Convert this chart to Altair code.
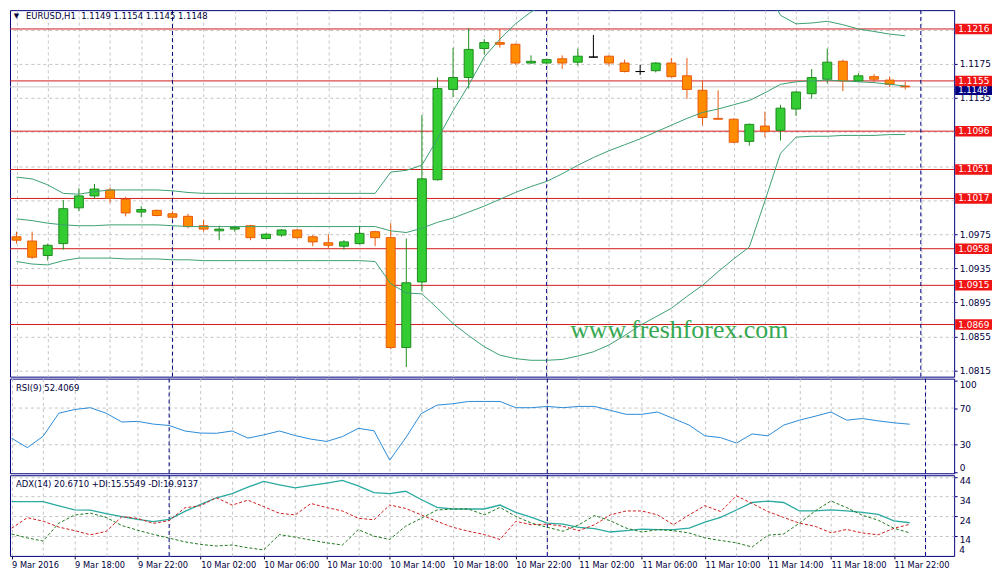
import altair as alt
import pandas as pd

# ---------------- data ----------------
opens = [1.0972, 1.0967, 1.0950, 1.0964, 1.1006, 1.1020, 1.1027, 1.1016, 1.1001, 1.1003,
         1.0999, 1.0996, 1.0985, 1.0979, 1.0981, 1.0985, 1.0970, 1.0974, 1.0980, 1.0972,
         1.0965, 1.0961, 1.0964, 1.0978, 1.0971, 1.0842, 1.0919, 1.1039, 1.1145, 1.1159,
         1.1193, 1.1200, 1.1198, 1.1176, 1.1176, 1.1181, 1.1177, 1.1183, 1.1184, 1.1176,
         1.1166, 1.1167, 1.1176, 1.1161, 1.1144, 1.1111, 1.1110, 1.1084, 1.1102, 1.1097,
         1.1122, 1.1140, 1.1157, 1.1178, 1.1155, 1.1160, 1.1156, 1.1149]
highs = [1.0978, 1.0978, 1.0964, 1.1015, 1.1029, 1.1034, 1.1030, 1.1019, 1.1008, 1.1004,
         1.1002, 1.0999, 1.0992, 1.0985, 1.0985, 1.0986, 1.0976, 1.0981, 1.0981, 1.0974,
         1.0975, 1.0968, 1.0985, 1.0979, 1.0988, 1.0970, 1.1115, 1.1159, 1.1194, 1.1217,
         1.1204, 1.1216, 1.1199, 1.1185, 1.1181, 1.1185, 1.1193, 1.1209, 1.1185, 1.1180,
         1.1174, 1.1177, 1.1182, 1.1182, 1.1155, 1.1144, 1.1111, 1.1105, 1.1119, 1.1127,
         1.1143, 1.1169, 1.1193, 1.1180, 1.1164, 1.1163, 1.1160, 1.1154]
lows = [1.0964, 1.0946, 1.0944, 1.0957, 1.1002, 1.1017, 1.1012, 1.0996, 1.0995, 1.0996,
        1.0993, 1.0982, 1.0978, 1.0968, 1.0978, 1.0968, 1.0969, 1.0972, 1.0970, 1.0961,
        1.0958, 1.0957, 1.0963, 1.0961, 1.0840, 1.0819, 1.0908, 1.1038, 1.1136, 1.1146,
        1.1186, 1.1194, 1.1174, 1.1175, 1.1175, 1.1169, 1.1173, 1.1182, 1.1173, 1.1165,
        1.1162, 1.1165, 1.1159, 1.1134, 1.1103, 1.1110, 1.1082, 1.1079, 1.1089, 1.1085,
        1.1114, 1.1134, 1.1152, 1.1143, 1.1154, 1.1153, 1.1148, 1.1145]
closes = [1.0968, 1.0948, 1.0962, 1.1005, 1.1020, 1.1028, 1.1017, 1.1000, 1.1004, 1.0997,
          1.0995, 1.0984, 1.0981, 1.0981, 1.0983, 1.0971, 1.0975, 1.0980, 1.0971, 1.0966,
          1.0962, 1.0966, 1.0976, 1.0971, 1.0842, 1.0918, 1.1040, 1.1146, 1.1159, 1.1192,
          1.1200, 1.1198, 1.1176, 1.1178, 1.1180, 1.1176, 1.1184, 1.1183, 1.1176, 1.1166,
          1.1166, 1.1176, 1.1160, 1.1145, 1.1112, 1.1110, 1.1083, 1.1104, 1.1096, 1.1123,
          1.1142, 1.1159, 1.1177, 1.1155, 1.1161, 1.1157, 1.1151, 1.1148]

bb_upper = [1.1042, 1.1040, 1.1033, 1.1023, 1.1022, 1.1025, 1.1027, 1.1027, 1.1027, 1.1027,
            1.1026, 1.1024, 1.1023, 1.1023, 1.1023, 1.1023, 1.1023, 1.1023, 1.1023, 1.1023,
            1.1023, 1.1023, 1.1023, 1.1023, 1.1048, 1.1050, 1.1056, 1.1087, 1.1120, 1.1150,
            1.1183, 1.1204, 1.1222, 1.1236, 1.1247, 1.1264, 1.1280, 1.1293, 1.1301, 1.1304,
            1.1306, 1.1312, 1.1318, 1.1320, 1.1321, 1.1313, 1.1308, 1.1304, 1.1268, 1.1232,
            1.1222, 1.1223, 1.1225, 1.1221, 1.1216, 1.1213, 1.1210, 1.1208]
bb_middle = [1.0993, 1.0991, 1.0988, 1.0986, 1.0985, 1.0985, 1.0986, 1.0986, 1.0986, 1.0986,
             1.0985, 1.0984, 1.0984, 1.0984, 1.0984, 1.0984, 1.0984, 1.0984, 1.0984, 1.0984,
             1.0984, 1.0984, 1.0984, 1.0984, 1.0979, 1.0977, 1.0982, 1.0989, 1.0994, 1.1001,
             1.1008, 1.1016, 1.1024, 1.1031, 1.1037, 1.1046, 1.1056, 1.1065, 1.1073, 1.1080,
             1.1087, 1.1095, 1.1103, 1.1111, 1.1118, 1.1122, 1.1127, 1.1132, 1.1141, 1.1151,
             1.1154, 1.1155, 1.1156, 1.1155, 1.1154, 1.1153, 1.1151, 1.1149]
bb_lower = [1.0943, 1.0940, 1.0939, 1.0944, 1.0947, 1.0947, 1.0947, 1.0946, 1.0946, 1.0946,
            1.0945, 1.0945, 1.0944, 1.0944, 1.0944, 1.0944, 1.0944, 1.0944, 1.0944, 1.0944,
            1.0944, 1.0944, 1.0944, 1.0943, 1.0917, 1.0906, 1.0905, 1.0888, 1.0870, 1.0856,
            1.0843, 1.0833, 1.0829, 1.0827, 1.0827, 1.0828, 1.0832, 1.0837, 1.0845, 1.0856,
            1.0868, 1.0878, 1.0888, 1.0902, 1.0915, 1.0931, 1.0946, 1.0960, 1.1014, 1.1070,
            1.1089, 1.1090, 1.1090, 1.1091, 1.1091, 1.1091, 1.1092, 1.1092]

rsi_values = [37.2, 26.8, 39.2, 64.4, 68.4, 70.4, 64.4, 54.8, 55.5, 52.5,
              51.0, 45.0, 42.7, 42.5, 45.0, 37.2, 40.7, 45.0, 40.0, 36.1,
              33.6, 38.9, 47.9, 45.3, 13.2, 37.2, 64.0, 73.2, 74.7, 77.2,
              77.2, 77.2, 70.4, 70.4, 71.8, 70.4, 71.8, 71.8, 67.5, 63.2,
              63.2, 65.7, 58.6, 51.4, 39.7, 37.8, 31.8, 41.8, 39.7, 51.4,
              56.8, 61.1, 65.7, 56.8, 58.6, 56.0, 53.9, 52.4]
adx_values = [31.4, 31.4, 31.4, 29.3, 27.3, 27.1, 25.4, 23.8, 22.4, 21.3,
              22.4, 26.5, 30.0, 33.4, 35.5, 38.8, 41.7, 40.0, 38.4, 39.7,
              40.9, 42.2, 39.4, 36.0, 35.5, 36.7, 32.5, 28.5, 27.7, 27.7,
              27.7, 29.7, 26.0, 23.4, 20.5, 20.0, 18.4, 17.7, 16.0, 16.7,
              17.5, 17.2, 17.2, 18.0, 21.0, 23.4, 27.2, 31.0, 31.7, 31.0,
              26.7, 26.7, 27.2, 26.7, 26.0, 25.0, 21.7, 20.7]
plus_di = [15.0, 13.0, 11.4, 20.5, 24.6, 25.6, 23.4, 19.3, 16.9, 14.8,
           12.9, 11.0, 9.7, 8.9, 9.4, 8.0, 6.9, 14.7, 13.4, 11.9,
           10.5, 9.4, 17.2, 13.9, 12.2, 18.9, 23.0, 27.2, 27.7, 27.7,
           24.7, 28.5, 23.9, 20.5, 18.4, 16.4, 19.7, 24.4, 21.7, 18.0,
           16.0, 17.2, 16.7, 15.5, 13.0, 11.7, 10.5, 8.4, 14.4, 15.0,
           20.5, 26.7, 31.8, 28.4, 24.5, 22.0, 17.9, 15.6]
minus_di = [17.9, 23.3, 21.5, 18.5, 16.7, 14.6, 16.3, 23.8, 22.9, 20.4,
            21.8, 28.3, 29.4, 33.4, 29.7, 32.2, 28.9, 25.5, 24.7, 30.5,
            28.4, 26.7, 23.0, 22.2, 29.7, 28.0, 24.7, 21.4, 18.4, 16.4,
            14.7, 12.2, 21.4, 19.7, 20.0, 18.9, 16.7, 19.7, 24.7, 26.7,
            26.7, 24.7, 19.7, 24.7, 29.4, 26.4, 34.4, 30.5, 26.4, 23.4,
            20.5, 18.9, 15.6, 17.3, 15.5, 14.6, 17.9, 19.9]

time_labels = ["9 Mar 2016", "9 Mar 18:00", "9 Mar 22:00", "10 Mar 02:00", "10 Mar 06:00",
               "10 Mar 10:00", "10 Mar 14:00", "10 Mar 18:00", "10 Mar 22:00", "11 Mar 02:00",
               "11 Mar 06:00", "11 Mar 10:00", "11 Mar 14:00", "11 Mar 18:00", "11 Mar 22:00"]
day_separators = [10, 34, 58]
level_prices = [1.1216, 1.1155, 1.1096, 1.1051, 1.1017, 1.0958, 1.0915, 1.0869]
price_grid = [1.0815, 1.0855, 1.0895, 1.0935, 1.0975, 1.1015, 1.1055, 1.1095, 1.1135, 1.1175, 1.1215]
last_price = [1.1148]
rsi_levels = [30, 70]
rsi_ticks = [0, 30, 70, 100]
adx_ticks = [14, 24, 34, 44]
adx_bottom_label = "4"

title_main = "EURUSD,H1\u00a0 1.1149 1.1154 1.1145 1.1148"
title_rsi = "RSI(9) 52.4069"
title_adx = "ADX(14) 20.6710 +DI:15.5549 -DI:19.9137"
watermark = "www.freshforex.com"

bars = list(range(len(opens)))

# ---------------- style ----------------
W, H1, H2, H3 = 948, 368, 95, 81
FONT = "DejaVu Sans"
NAVY = "#000080"
TXT = "#00003c"
GRID = "#c4c4c4"
RED = "#d41a1a"
BOX_RED = "#f01414"
BAND = "#3c9f72"

xscale = alt.Scale(domain=[-0.1, 59.82], nice=False, zero=False)
grid_vals = list(range(0, 60, 2))

xa_plain = alt.Axis(values=grid_vals, grid=True, gridColor=GRID, gridDash=[3, 3],
                    labels=False, ticks=False, domain=False, title=None)

tick_expr = ("datum.value % 4 == 0 ? [" + ",".join("'" + t + "'" for t in time_labels)
             + "][datum.value / 4] : ''")
xa_bottom = alt.Axis(values=grid_vals, grid=True, gridColor=GRID, gridDash=[3, 3],
                     labelExpr=tick_expr, labelAlign="left", labelFont=FONT, labelFontSize=8.3,
                     labelColor=TXT, labelPadding=2, labelOverlap=False, labelFlush=False,
                     labelBound=False, ticks=True, tickSize=3,
                     tickColor={"condition": {"test": "datum.value % 4 == 0", "value": TXT},
                                "value": "transparent"},
                     domain=False, title=None)


def text_layer(txt, x, y, size=8.5, align="left", color=TXT, font=FONT):
    return alt.Chart(pd.DataFrame({"t": [txt]})).mark_text(
        align=align, baseline="middle", font=font, fontSize=size, color=color
    ).encode(text="t:N", x=alt.value(x), y=alt.value(y))


# ---------------- main price panel ----------------
# axis labels that sit under a level box are left blank (as in the reference)
hidden = [f"{g:.4f}" for g in price_grid if any(abs(g - l) < 0.0008 for l in level_prices)]
price_label_expr = ("indexof([" + ",".join("'" + h + "'" for h in hidden)
                    + "], format(datum.value, '.4f')) >= 0 ? '' : format(datum.value, '.4f')")

pscale = alt.Scale(domain=[1.08078, 1.12381], nice=False, zero=False)
paxis = alt.Axis(orient="right", values=price_grid, labelExpr=price_label_expr, grid=True,
                 gridColor=GRID, gridDash=[3, 3], domain=False, ticks=True, tickSize=3,
                 tickColor=NAVY, labelColor=TXT, labelFont=FONT, labelFontSize=9, labelPadding=2,
                 labelOverlap=False, title=None)


def X(f, axis):
    return alt.X(f"{f}:Q", scale=xscale, axis=axis)


def PY(f):
    return alt.Y(f"{f}:Q", scale=pscale, axis=paxis)


candles = pd.DataFrame({"i": bars, "open": opens, "high": highs, "low": lows, "close": closes})
candles["kind"] = ["doji" if o == c else ("bull" if c > o else "bear") for o, c in zip(opens, closes)]
bands = pd.DataFrame({"i": bars, "up": bb_upper, "mid": bb_middle, "low": bb_lower})
kinds = ["bull", "bear", "doji"]

levels_df = pd.DataFrame({"level": level_prices})
last_df = pd.DataFrame({"level": last_price})
sep_df = pd.DataFrame({"s": day_separators})

lvl_rules = alt.Chart(levels_df).mark_rule(color=RED, strokeWidth=1).encode(y=PY("level"))
last_rule = alt.Chart(last_df).mark_rule(color="#c8c8c8", strokeWidth=1).encode(y=PY("level"))
seps_main = alt.Chart(sep_df).mark_rule(color=NAVY, strokeDash=[4, 3]).encode(x=X("s", xa_plain))

wicks = alt.Chart(candles).mark_rule(clip=True, strokeWidth=1).encode(
    x=X("i", xa_plain), y=PY("low"), y2="high:Q",
    color=alt.Color("kind:N", scale=alt.Scale(domain=kinds, range=["#1e8c1e", "#e8590c", "#000000"]),
                    legend=None))
bodies = alt.Chart(candles).mark_bar(width=9, clip=True, strokeWidth=1).encode(
    x=X("i", xa_plain), y=PY("open"), y2="close:Q",
    fill=alt.Fill("kind:N", scale=alt.Scale(domain=kinds, range=["#33cc33", "#ff8c00", "#000000"]),
                  legend=None),
    stroke=alt.Stroke("kind:N", scale=alt.Scale(domain=kinds, range=["#1e8c1e", "#e8590c", "#000000"]),
                      legend=None))

band_layers = [alt.Chart(bands).mark_line(color=BAND, strokeWidth=1, clip=True).encode(
    x=X("i", xa_plain), y=PY(f)) for f in ["up", "mid", "low"]]

box_half = 0.00062
# the current-price box sits just under the 1.1155 box, as in the reference
navy_box = alt.Chart(last_df).transform_calculate(
    top="datum.level + 0.0003", bot="datum.level - 0.00095"
).mark_rect(color=NAVY).encode(x=alt.value(W + 1), x2=alt.value(W + 38), y=PY("top"), y2="bot:Q")
navy_txt = alt.Chart(last_df).mark_text(align="left", baseline="middle", font=FONT, fontSize=8.5,
                                        color="white", dy=3).encode(
    x=alt.value(W + 4), y=PY("level"), text=alt.Text("level:Q", format=".4f"))
red_box = alt.Chart(levels_df).transform_calculate(
    top=f"datum.level + {box_half}", bot=f"datum.level - {box_half}"
).mark_rect(color=BOX_RED).encode(x=alt.value(W + 1), x2=alt.value(W + 38), y=PY("top"), y2="bot:Q")
red_txt = alt.Chart(levels_df).mark_text(align="left", baseline="middle", font=FONT, fontSize=9,
                                         color="white").encode(
    x=alt.value(W + 4), y=PY("level"), text=alt.Text("level:Q", format=".4f"))

main = alt.layer(
    last_rule, lvl_rules, seps_main,
    text_layer(watermark, 672, 321, size=26, align="center", color="#36a852", font="Liberation Serif"),
    wicks, bodies, *band_layers,
    text_layer("\u25bc", 6.5, 5.5, size=7, align="center"),
    text_layer(title_main, 16, 5.5),
    navy_box, navy_txt, red_box, red_txt,
).properties(width=W, height=H1)

# ---------------- RSI panel ----------------
rscale = alt.Scale(domain=[-1.1, 102.1], nice=False, zero=False)
raxis = alt.Axis(orient="right", values=rsi_ticks, grid=False, domain=False, ticks=True, tickSize=3,
                 tickColor=NAVY, labelColor=TXT, labelFont=FONT, labelFontSize=9, labelPadding=2,
                 labelFlush=4, labelOverlap=False, title=None)
rsi_df = pd.DataFrame({"i": bars, "rsi": rsi_values})
rsi_lv = pd.DataFrame({"v": rsi_levels})

rsi = alt.layer(
    alt.Chart(rsi_lv).mark_rule(color=GRID, strokeDash=[3, 3]).encode(
        y=alt.Y("v:Q", scale=rscale, axis=raxis)),
    alt.Chart(sep_df).mark_rule(color=NAVY, strokeDash=[4, 3]).encode(x=X("s", xa_plain)),
    alt.Chart(rsi_df).mark_line(color="#2a8ad8", strokeWidth=1).encode(
        x=X("i", xa_plain), y=alt.Y("rsi:Q", scale=rscale, axis=raxis)),
    text_layer(title_rsi, 6, 9),
).properties(width=W, height=H2)

# ---------------- ADX panel ----------------
ascale = alt.Scale(domain=[3.85, 44.85], nice=False, zero=False)
aaxis = alt.Axis(orient="right", values=adx_ticks, grid=True, gridColor=GRID, gridDash=[3, 3],
                 domain=False, ticks=True, tickSize=3, tickColor=NAVY, labelColor=TXT,
                 labelFont=FONT, labelFontSize=9, labelPadding=2, labelBaseline="top",
                 labelOverlap=False, title=None)
adx_df = pd.DataFrame({"i": bars, "adx": adx_values, "pdi": plus_di, "mdi": minus_di})


def AY(f):
    return alt.Y(f"{f}:Q", scale=ascale, axis=aaxis)


adx = alt.layer(
    alt.Chart(sep_df).mark_rule(color=NAVY, strokeDash=[4, 3]).encode(x=X("s", xa_bottom)),
    alt.Chart(adx_df).mark_line(color="#2aaaa0", strokeWidth=1.3).encode(x=X("i", xa_bottom), y=AY("adx")),
    alt.Chart(adx_df).mark_line(color="#1e781e", strokeWidth=1, strokeDash=[3, 2]).encode(
        x=X("i", xa_bottom), y=AY("pdi")),
    alt.Chart(adx_df).mark_line(color="#d01c1c", strokeWidth=1, strokeDash=[3, 2]).encode(
        x=X("i", xa_bottom), y=AY("mdi")),
    text_layer(title_adx, 6, 8.5),
    text_layer(adx_bottom_label, W + 5, H3 - 6, size=9),
).properties(width=W, height=H3)

chart = alt.vconcat(main, rsi, adx, spacing=2, bounds="flush").properties(
    padding=0, background="white"
).configure_view(stroke=NAVY, strokeWidth=1)

chart.save("out.html", embed_options={"renderer": "svg", "actions": False})
